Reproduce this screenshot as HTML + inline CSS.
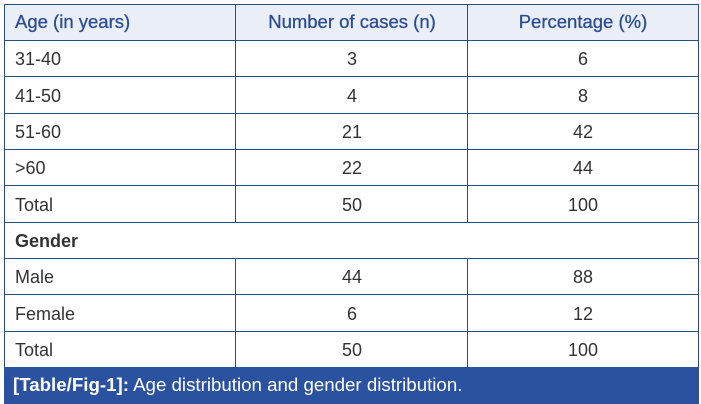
<!DOCTYPE html>
<html><head><style>
body{margin:0;width:701px;height:404px;background:#fff;position:relative;font-family:"Liberation Sans",sans-serif;overflow:hidden}
.hl{position:absolute;left:4px;width:695px;height:1px;background:#2c4a86}
.vl{position:absolute;width:1px;background:#2c4a86}
.t{position:absolute;font-size:18px;color:#333;line-height:20px}
.h{color:#2b4c94;font-size:18.5px;-webkit-text-stroke:0.3px #2b4c94}
.c{text-align:center;width:232px}
</style></head><body>
<div style="position:absolute;left:4px;top:4px;width:695px;height:36px;background:#e9eef7"></div>
<div class="hl" style="top:4px"></div>
<div class="hl" style="top:40px"></div>
<div class="hl" style="top:76px"></div>
<div class="hl" style="top:113px"></div>
<div class="hl" style="top:149px"></div>
<div class="hl" style="top:185px"></div>
<div class="hl" style="top:222px"></div>
<div class="hl" style="top:258px"></div>
<div class="hl" style="top:294px"></div>
<div class="hl" style="top:331px"></div>
<div class="vl" style="left:4px;top:4px;height:363px"></div>
<div class="vl" style="left:235px;top:4px;height:218px"></div>
<div class="vl" style="left:467px;top:4px;height:218px"></div>
<div class="vl" style="left:235px;top:258px;height:109px"></div>
<div class="vl" style="left:467px;top:258px;height:109px"></div>
<div class="vl" style="left:698px;top:4px;height:363px"></div>
<div style="position:absolute;left:4px;top:367px;width:695px;height:37px;background:#2b52a0"></div>
<div class="t" style="left:13px;top:375px;color:#fff;font-size:18.7px"><b>[Table/Fig-1]:</b> Age distribution and gender distribution.</div>

<div class="t h" style="left:15px;top:12px">Age (in years)</div>
<div class="t h c" style="left:236px;top:12px">Number of cases (n)</div>
<div class="t h c" style="left:467px;top:12px">Percentage (%)</div>

<div class="t" style="left:15px;top:49px">31-40</div><div class="t c" style="left:236px;top:49px">3</div><div class="t c" style="left:467px;top:49px">6</div>
<div class="t" style="left:15px;top:86px">41-50</div><div class="t c" style="left:236px;top:86px">4</div><div class="t c" style="left:467px;top:86px">8</div>
<div class="t" style="left:15px;top:122px">51-60</div><div class="t c" style="left:236px;top:122px">21</div><div class="t c" style="left:467px;top:122px">42</div>
<div class="t" style="left:15px;top:158px">&gt;60</div><div class="t c" style="left:236px;top:158px">22</div><div class="t c" style="left:467px;top:158px">44</div>
<div class="t" style="left:15px;top:195px">Total</div><div class="t c" style="left:236px;top:195px">50</div><div class="t c" style="left:467px;top:195px">100</div>
<div class="t" style="left:15px;top:231px;font-weight:bold">Gender</div>
<div class="t" style="left:15px;top:267px">Male</div><div class="t c" style="left:236px;top:267px">44</div><div class="t c" style="left:467px;top:267px">88</div>
<div class="t" style="left:15px;top:304px">Female</div><div class="t c" style="left:236px;top:304px">6</div><div class="t c" style="left:467px;top:304px">12</div>
<div class="t" style="left:15px;top:340px">Total</div><div class="t c" style="left:236px;top:340px">50</div><div class="t c" style="left:467px;top:340px">100</div>
</body></html>
